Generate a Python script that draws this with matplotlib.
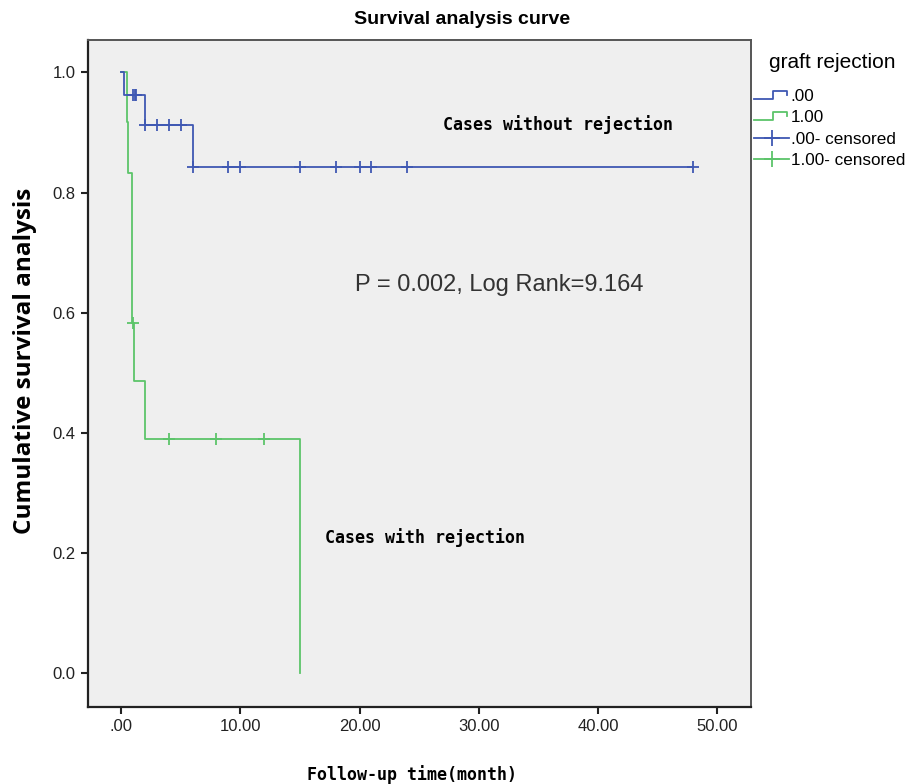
import numpy as np
import matplotlib
matplotlib.use("Agg")
import matplotlib.pyplot as plt
from matplotlib.lines import Line2D
from matplotlib.legend_handler import HandlerBase

# ---------------- data ----------------
group_labels = [".00", "1.00"]
# group .00 (no rejection)
blue_event_times = [0.25, 2.0, 6.0]
blue_event_surv = [0.962, 0.913, 0.843]
blue_end_time = 48.0
blue_censored_times = [1.0, 1.15, 1.3, 2.0, 3.0, 4.0, 5.0, 6.0, 9.0, 10.0,
                       15.0, 18.0, 20.0, 21.0, 24.0, 48.0]
# group 1.00 (rejection)
green_event_times = [0.5, 0.6, 0.95, 1.1, 2.0, 15.0]
green_event_surv = [0.917, 0.833, 0.583, 0.486, 0.389, 0.0]
green_end_time = 15.0
green_censored_times = [1.0, 4.0, 8.0, 12.0]

x_ticks = [0, 10, 20, 30, 40, 50]
x_tick_labels = [".00", "10.00", "20.00", "30.00", "40.00", "50.00"]
y_ticks = [0.0, 0.2, 0.4, 0.6, 0.8, 1.0]
y_tick_labels = ["0.0", "0.2", "0.4", "0.6", "0.8", "1.0"]

BLUE = "#3f58b3"
GREEN = "#5cc46a"


def km_curve(event_times, event_surv, end_time):
    t = [0.0] + list(event_times)
    s = [1.0] + list(event_surv)
    if end_time > t[-1]:
        t.append(end_time)
        s.append(s[-1])
    return np.array(t), np.array(s)


def surv_at(t_arr, s_arr, times):
    idx = np.searchsorted(t_arr, times, side="right") - 1
    idx = np.clip(idx, 0, len(s_arr) - 1)
    return s_arr[idx]


fig = plt.figure(figsize=(9.10, 7.84), dpi=100)
fig.patch.set_facecolor("white")
ax = fig.add_axes([0.097, 0.0986, 0.728, 0.8504])
ax.set_facecolor("#efefef")

tb, sb = km_curve(blue_event_times, blue_event_surv, blue_end_time)
tg, sg = km_curve(green_event_times, green_event_surv, green_end_time)

ax.step(tg, sg, where="post", color=GREEN, lw=1.3, zorder=3)
ax.step(tb, sb, where="post", color=BLUE, lw=1.3, zorder=4)

ax.plot(green_censored_times, surv_at(tg, sg, green_censored_times), ls="none",
        marker="+", ms=9, mew=1.3, color=GREEN, zorder=5)
ax.plot(blue_censored_times, surv_at(tb, sb, blue_censored_times), ls="none",
        marker="+", ms=9, mew=1.3, color=BLUE, zorder=6)

ax.set_xlim(-2.74, 52.8)
ax.set_ylim(-0.056, 1.054)

tick_font = dict(family="Liberation Sans", size=12)
ax.set_xticks(x_ticks)
ax.set_xticklabels(x_tick_labels, **tick_font, color="#222222")
ax.set_yticks(y_ticks)
ax.set_yticklabels(y_tick_labels, **tick_font, color="#222222")
ax.tick_params(direction="out", length=5, width=1.5, color="#222222", pad=4)
ax.tick_params(top=False, right=False)

for side in ["left", "bottom"]:
    ax.spines[side].set_color("#222222")
    ax.spines[side].set_linewidth(1.6)
for side in ["top", "right"]:
    ax.spines[side].set_color("#555555")
    ax.spines[side].set_linewidth(1.4)

mono = dict(family="DejaVu Sans Mono", weight="bold", size=12)
ax.text(27.0, 0.913, "Cases without rejection", ha="left", va="center", **mono)
ax.text(17.1, 0.225, "Cases with rejection", ha="left", va="center", **mono)
ax.text(19.6, 0.646, "P = 0.002, Log Rank=9.164", ha="left", va="center",
        family="Liberation Sans", size=17, color="#333333")

fig.text(462 / 910, 1 - 20 / 784, "Survival analysis curve", ha="center", va="center",
         family="Liberation Sans", weight="bold", size=14)
fig.text(25 / 910, 1 - 361 / 784, "Cumulative survival analysis", rotation=90,
         ha="center", va="center", family="Open Sans", weight="bold", size=17.5)
fig.text(412 / 910, 1 - 775 / 784, "Follow-up time(month)", ha="center", va="center",
         **mono)
fig.text(832 / 910, 1 - 62 / 784, "graft rejection", ha="center", va="center",
         family="Liberation Sans", size=15)


class StepHandler(HandlerBase):
    def create_artists(self, legend, orig_handle, xdescent, ydescent,
                       width, height, fontsize, trans):
        x0 = -xdescent
        y0 = -ydescent
        xs = [x0, x0 + 0.55 * width, x0 + 0.55 * width, x0 + 0.95 * width, x0 + 0.95 * width]
        ys = [y0 + 0.2 * height, y0 + 0.2 * height, y0 + 0.85 * height,
              y0 + 0.85 * height, y0 + 0.5 * height]
        ln = Line2D(xs, ys, color=orig_handle.get_color(), lw=1.3)
        ln.set_transform(trans)
        return [ln]


h_blue = Line2D([], [], color=BLUE)
h_green = Line2D([], [], color=GREEN)
h_blue_c = Line2D([], [], color=BLUE, lw=1.3, marker="+", ms=12, mew=1.3)
h_green_c = Line2D([], [], color=GREEN, lw=1.3, marker="+", ms=12, mew=1.3)

leg = fig.legend([h_blue, h_green, h_blue_c, h_green_c],
                 [group_labels[0], group_labels[1],
                  group_labels[0] + "- censored", group_labels[1] + "- censored"],
                 handler_map={h_blue: StepHandler(), h_green: StepHandler()},
                 loc="upper left", bbox_to_anchor=(754 / 910, 1 - 89 / 784),
                 frameon=False, numpoints=1, handlelength=2.05, handletextpad=0.1,
                 labelspacing=0.37, borderaxespad=0, borderpad=0,
                 prop=dict(family="Liberation Sans", size=12.3))

fig.savefig("out.png", dpi=100, facecolor="white")
